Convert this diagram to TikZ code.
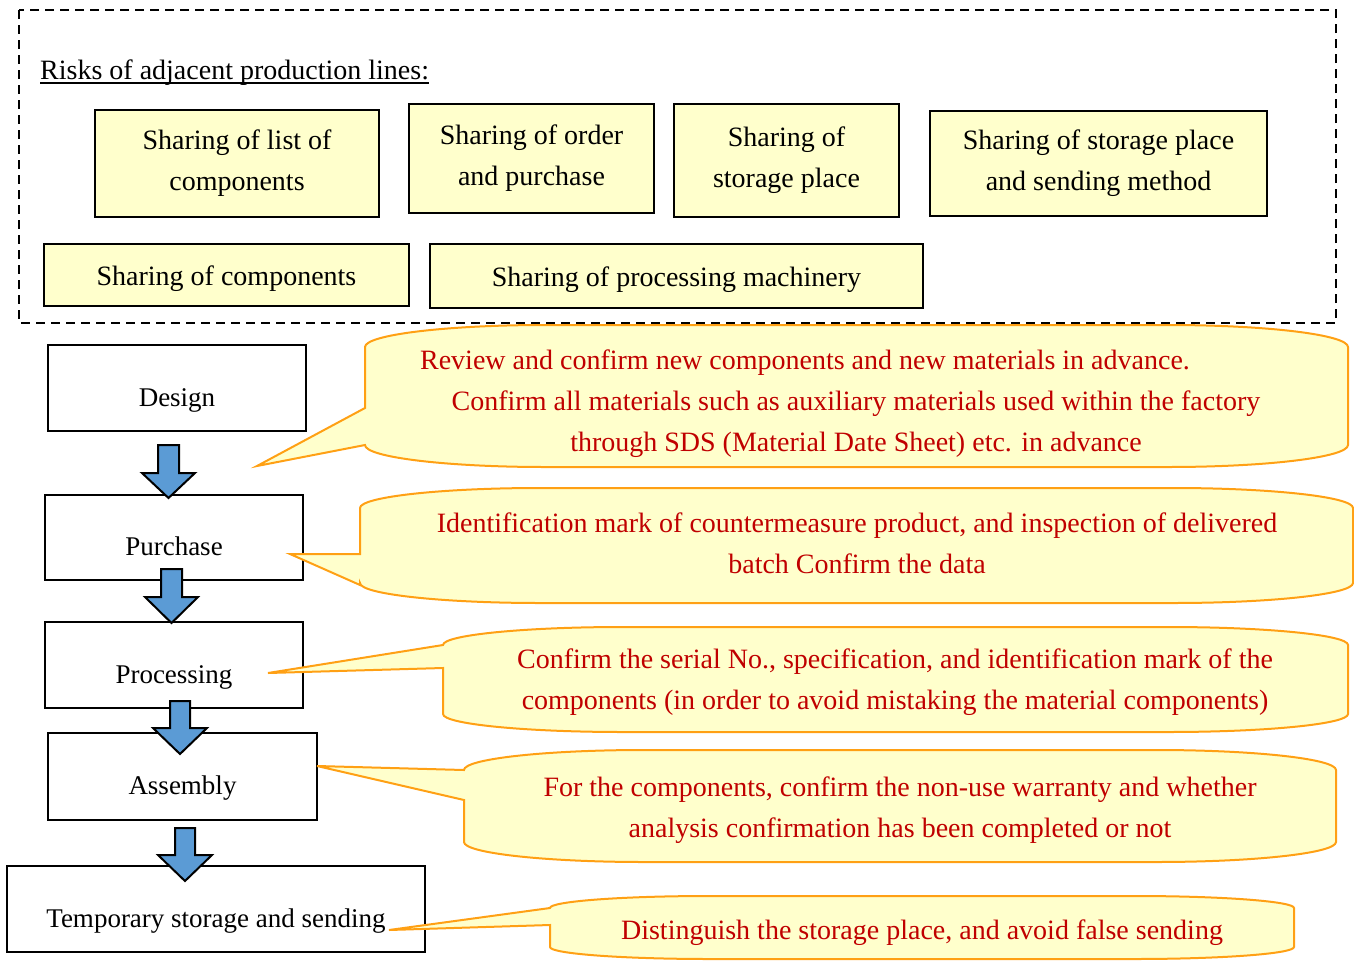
\documentclass[tikz,border=0pt]{standalone}
\usepackage{fontspec}
\setmainfont{Liberation Serif}
\definecolor{yfill}{HTML}{FFFFCC}
\definecolor{corange}{RGB}{255,160,20}
\definecolor{cred}{HTML}{C00000}
\definecolor{ablue}{HTML}{5B9BD5}
\newcommand\mycallout[9]{%
 \draw[callout] (#7) -- (#1,-#6) -- (#1,-#4+#9)
   arc[start angle=180,end angle=270,x radius=#8,y radius=#9] -- (#2-#8,-#4)
   arc[start angle=270,end angle=360,x radius=#8,y radius=#9] -- (#2,-#3-#9)
   arc[start angle=0,end angle=90,x radius=#8,y radius=#9] -- (#1+#8,-#3)
   arc[start angle=90,end angle=180,x radius=#8,y radius=#9] -- (#1,-#5) -- cycle;}
\newcommand\blockarrow[6]{%
 \draw[barrow] (#1-#5,-#2) -- (#1+#5,-#2) -- (#1+#5,-#3) -- (#1+#6,-#3) -- (#1,-#4)
   -- (#1-#6,-#3) -- (#1-#5,-#3) -- cycle;}
\begin{document}
\begin{tikzpicture}[x=1pt,y=1pt,
  bigfont/.style={font=\fontsize{28}{41}\selectfont},
  ybox/.style={bigfont, draw=black, line width=2pt, fill=yfill, align=center, inner sep=0pt},
  ysingle/.style={ybox, text height=21.5pt, text depth=0pt},
  pbox/.style={font=\fontsize{27}{40}\selectfont, draw=black, line width=2pt, fill=white, inner sep=0pt, text height=36pt, text depth=0pt},
  ctext/.style={bigfont, text=cred, align=center, inner sep=0pt},
  callout/.style={draw=corange, line width=2pt, fill=yfill, line join=miter},
  barrow/.style={draw=black, line width=2pt, fill=ablue, line join=miter},
  frame/.style={draw=black, line width=1.8pt, dash pattern=on 9pt off 6pt}]
\useasboundingbox (0,0) rectangle (1354,-961);
% risks frame
\draw[frame] (19,-10) rectangle (1336,-323);
\node[bigfont, anchor=base west, inner sep=0pt] (title) at (40,-79) {Risks of adjacent production lines:};
\draw[line width=1.5pt] ([yshift=-4pt]title.base west) -- ([yshift=-4pt]title.base east);
\node[ybox, minimum width=284, minimum height=107] (y1) at (237,-163.5) {Sharing of list of\\components};
\node[ybox, minimum width=245, minimum height=109] (y2) at (531.5,-158.5) {Sharing of order\\and purchase};
\node[ybox, minimum width=225, minimum height=113] (y3) at (786.5,-160.5) {Sharing of\\storage place};
\node[ybox, minimum width=337, minimum height=105] (y4) at (1098.5,-163.5) {Sharing of storage place\\and sending method};
\node[ysingle, minimum width=365, minimum height=62] (y5) at (226.5,-275) {Sharing of components};
\node[ysingle, minimum width=493, minimum height=64] (y6) at (676.5,-276) {Sharing of processing machinery};
% process boxes
\node[pbox, minimum width=258, minimum height=86] (design) at (177,-388) {Design};
\node[pbox, minimum width=258, minimum height=85] (purchase) at (174,-537.5) {Purchase};
\node[pbox, minimum width=258, minimum height=86] (processing) at (174,-665) {Processing};
\node[pbox, minimum width=269, minimum height=87] (assembly) at (182.5,-776.5) {Assembly};
\node[pbox, minimum width=418, minimum height=86] (temp) at (216,-909) {Temporary storage and sending};
% block arrows
\blockarrow{168.5}{445}{473}{498}{10.5}{26.5}
\blockarrow{171.5}{569}{597}{623}{10.5}{26.5}
\blockarrow{180}{701}{728}{754}{10}{27}
\blockarrow{185}{828}{855}{881}{10}{27}
% callout tips
\coordinate (t1) at (257,-466);
\coordinate (t2) at (290,-554);
\coordinate (t3) at (268,-673);
\coordinate (t4) at (317,-766);
\coordinate (t5) at (389,-930);
% callouts
\mycallout{365}{1348}{325}{467}{408}{445}{t1}{180}{22}
\mycallout{360}{1353}{488}{603}{554}{585}{t2}{180}{20}
\mycallout{443}{1348}{627}{732}{645}{668}{t3}{180}{18}
\mycallout{464}{1336}{750}{862}{770}{800}{t4}{180}{20}
\mycallout{550}{1294}{896}{959}{908}{925}{t5}{160}{12}
% callout texts
\node[ctext] (c1) at (856,-404) {Review and confirm new components and new materials in advance.\hspace*{102pt}\\Confirm all materials such as auxiliary materials used within the factory\\through SDS (Material Date Sheet) etc. in advance};
\node[ctext] (c2) at (857,-543) {Identification mark of countermeasure product, and inspection of delivered\\batch Confirm the data};
\node[ctext] (c3) at (895,-682) {Confirm the serial No., specification, and identification mark of the\\components (in order to avoid mistaking the material components)};
\node[ctext] (c4) at (900,-810) {For the components, confirm the non-use warranty and whether\\analysis confirmation has been completed or not};
\node[ctext] (c5) at (922,-933) {Distinguish the storage place, and avoid false sending};
\end{tikzpicture}
\end{document}
